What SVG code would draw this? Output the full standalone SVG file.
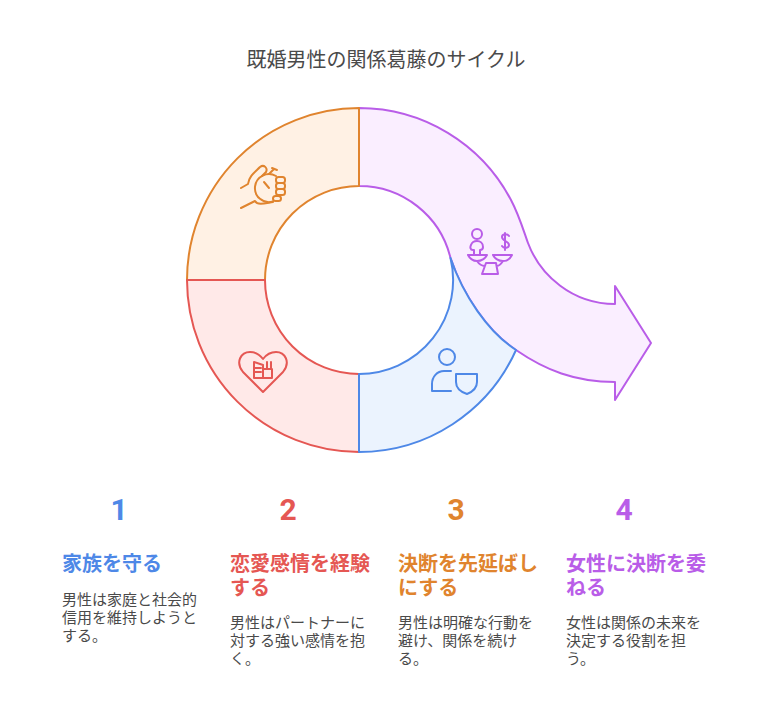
<svg xmlns="http://www.w3.org/2000/svg" width="768" height="720" viewBox="0 0 768 720">
<style>
text{font-family:"Noto Sans CJK JP","Noto Sans",sans-serif}
.t{font-size:20px;fill:#4a4a4a}
.n{font-family:Roboto,"Liberation Sans",sans-serif;font-size:30px;font-weight:700;text-anchor:middle}
.h{font-size:20px;font-weight:700}
.b{font-size:15px;fill:#4a4a4a}
.seg{stroke-width:2;stroke-linejoin:round}
.ic{fill:none;stroke-width:2;stroke-linecap:round;stroke-linejoin:round}
.blue{fill:#4e88e7}.red{fill:#e55753}.orange{fill:#e0842e}.purple{fill:#b95de8}
</style>
<rect width="768" height="720" fill="#fff"/>
<text class="t" x="386" y="67" text-anchor="middle">既婚男性の関係葛藤のサイクル</text>
<g id="connectors"/>
<g id="node-purple">
<path class="seg" fill="#faeeff" stroke="#b95de8" d="M359 108A172 172 0 0 1 511 200C519 215 524 232 528 243C540 275 572 304 615 304V286L651 343L615 400V382C575 382 545 370 516 350C488 332 463 295 450.500 258A94 94 0 0 0 359 186Z"/>
<circle class="ic" stroke="#b95de8" cx="477" cy="234" r="5"/>
<path class="ic" stroke="#b95de8" d="M474 255V250H473C470 250 470 247 471 245C472 242 475 241 477 241C480 241 483 243 483 247C483 249 482 250 480 250V255M468 255H487C485 259 482 261 477 261C473 261 470 259 468 255ZM493 255H512C510 259 507 261 503 261C498 261 495 259 493 255ZM477 261C479 264 482 266 485 266M503 261C501 264 499 266 497 266M486 263H496L498 274H482ZM509 236C507 233 502 234 502 237C502 241 509 241 509 245C509 248 504 249 502 246M505 233V250"/>
</g>
<g id="node-orange">
<path class="seg" fill="#fff1e4" stroke="#e0842e" d="M187 280A172 172 0 0 1 359 108V186A94 94 0 0 0 265 280Z"/>
<path class="ic" stroke="#e0842e" d="M241 188L248 184C249 176 255 172 260 167C264 164 268 168 266 172L262 176M241 208L255 201C258 206 266 203 273 202"/>
<path class="ic" stroke="#e0842e" d="M276 176A14 14 0 1 0 273 201.500"/>
<path class="ic" stroke="#e0842e" d="M264 182L269 188M269 174L274 169M272 168L277 170"/>
<rect class="ic" stroke="#e0842e" x="276" y="177" width="9" height="6" rx="2.500"/>
<rect class="ic" stroke="#e0842e" x="276" y="183" width="9" height="6" rx="2.500"/>
<rect class="ic" stroke="#e0842e" x="276" y="189" width="9" height="6" rx="2.500"/>
<rect class="ic" stroke="#e0842e" x="273" y="196" width="8" height="5" rx="2.500"/>
</g>
<g id="node-red">
<path class="seg" fill="#ffe9e8" stroke="#e55753" d="M187 280H265A94 94 0 0 0 359 374V452A172 172 0 0 1 187 280Z"/>
<path class="ic" stroke="#e55753" d="M263 392L243 372C235 362 241 352 250 352C256 352 260 355 263 359C266 355 270 352 276 352C285 352 291 362 283 372Z"/>
<path class="ic" stroke="#e55753" stroke-width="1.600" d="M254 362L263 365V378H254ZM263 369H272V378H263ZM267 362V369M271 362V369M254 368H261M254 372H261"/>
</g>
<g id="node-blue">
<path class="seg" fill="#ebf3fe" stroke="#4e88e7" d="M359 452V374A94 94 0 0 0 450.500 258C463 295 488 332 516 350A172 172 0 0 1 359 452Z"/>
<circle class="ic" stroke="#4e88e7" cx="447" cy="357" r="8"/>
<path class="ic" stroke="#4e88e7" d="M451 371H444C437 371 432 377 432 384V391H451M456 374H477V382C477 388 472 392 467 394C461 392 456 388 456 382Z"/>
</g>
<g id="item-1">
<text class="n blue" x="119" y="520">1</text>
<text class="h blue" x="62" y="571">家族を守る</text>
<text class="b" x="62" y="604.500"><tspan x="62">男性は家庭と社会的</tspan><tspan x="62" dy="18">信用を維持しようと</tspan><tspan x="62" dy="18">する。</tspan></text>
</g>
<g id="item-2">
<text class="n red" x="288" y="520">2</text>
<text class="h red" x="230" y="571"><tspan x="230">恋愛感情を経験</tspan><tspan x="230" dy="24">する</tspan></text>
<text class="b" x="230" y="628"><tspan x="230">男性はパートナーに</tspan><tspan x="230" dy="18">対する強い感情を抱</tspan><tspan x="230" dy="18">く。</tspan></text>
</g>
<g id="item-3">
<text class="n orange" x="456" y="520">3</text>
<text class="h orange" x="398" y="571"><tspan x="398">決断を先延ばし</tspan><tspan x="398" dy="24">にする</tspan></text>
<text class="b" x="398" y="628"><tspan x="398">男性は明確な行動を</tspan><tspan x="398" dy="18">避け、関係を続け</tspan><tspan x="398" dy="18">る。</tspan></text>
</g>
<g id="item-4">
<text class="n purple" x="624" y="520">4</text>
<text class="h purple" x="566" y="571"><tspan x="566">女性に決断を委</tspan><tspan x="566" dy="24">ねる</tspan></text>
<text class="b" x="566" y="628"><tspan x="566">女性は関係の未来を</tspan><tspan x="566" dy="18">決定する役割を担</tspan><tspan x="566" dy="18">う。</tspan></text>
</g>
</svg>
